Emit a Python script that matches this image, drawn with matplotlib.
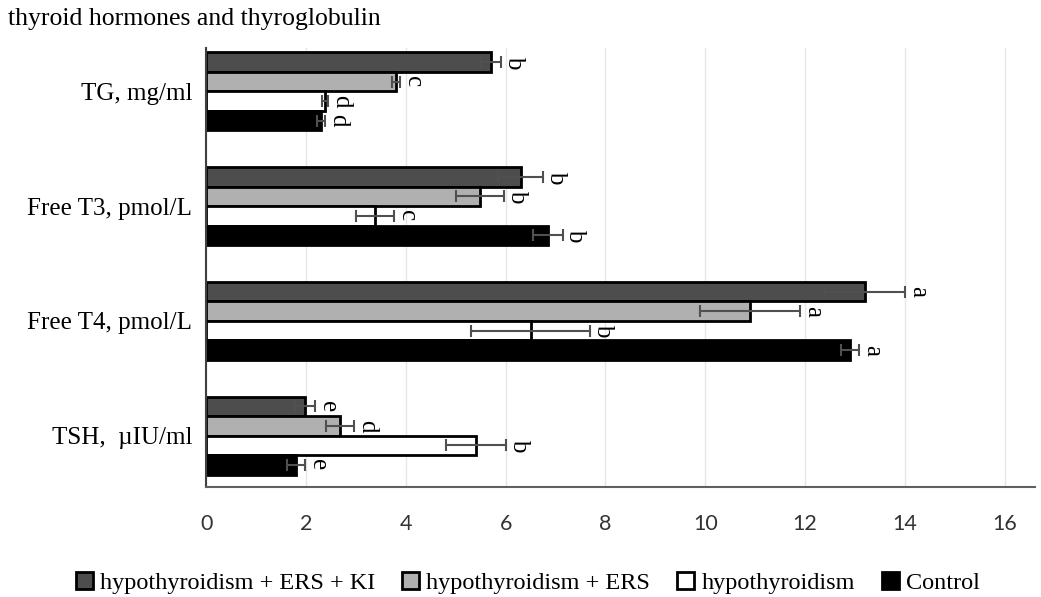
import matplotlib.pyplot as plt
import numpy as np

plt.rcParams['font.family'] = ['Liberation Serif', 'DejaVu Serif']

# bottom to top
categories = ["TSH,  \u00b5IU/ml", "Free T4, pmol/L", "Free T3, pmol/L", "TG, mg/ml"]
series = ["hypothyroidism + ERS + KI", "hypothyroidism + ERS", "hypothyroidism", "Control"]

ki_vals = [1.98, 13.2, 6.3, 5.7]
ki_err = [0.2, 0.8, 0.45, 0.2]
ki_let = ["e", "a", "b", "b"]

ers_vals = [2.68, 10.9, 5.48, 3.8]
ers_err = [0.28, 1.0, 0.48, 0.08]
ers_let = ["d", "a", "b", "c"]

hypo_vals = [5.4, 6.5, 3.38, 2.38]
hypo_err = [0.6, 1.2, 0.38, 0.06]
hypo_let = ["b", "b", "c", "d"]

ctrl_vals = [1.8, 12.9, 6.84, 2.3]
ctrl_err = [0.18, 0.18, 0.3, 0.08]
ctrl_let = ["e", "a", "b", "d"]

fig = plt.figure(figsize=(10.41, 5.97), dpi=100)
ax = fig.add_axes([0.198, 0.184, 0.796, 0.736])

y = np.arange(len(categories))
h = 0.17
groups = [
    (ki_vals, ki_err, ki_let, "#4d4d4d", 1.5),
    (ers_vals, ers_err, ers_let, "#b0b0b0", 0.5),
    (hypo_vals, hypo_err, hypo_let, "white", -0.5),
    (ctrl_vals, ctrl_err, ctrl_let, "black", -1.5),
]
for (vals, errs, lets, col, off), name in zip(groups, series):
    pos = y + off * h
    ax.barh(pos, vals, height=h, color=col, edgecolor="black", linewidth=2,
            label=name, zorder=2)
    ax.errorbar(vals, pos, xerr=errs, fmt="none", ecolor="#505050",
                elinewidth=1.5, capsize=4, capthick=1.5, zorder=3)
    for v, e, p, l in zip(vals, errs, pos, lets):
        ax.text(v + e + 0.04, p, l, rotation=-90, ha="left", va="center",
                fontsize=18, zorder=4)

ax.set_xlim(0, 16.6)
ax.set_ylim(-0.45, 3.38)
ax.set_xticks(np.arange(0, 17, 2))
ax.set_yticks(y)
ax.set_yticklabels(categories)
ax.tick_params(axis="x", length=0, pad=19, labelsize=15.5, labelcolor="#333333")
for t in ax.get_xticklabels():
    t.set_fontfamily(["Lato", "DejaVu Sans"])
ax.tick_params(axis="y", length=0, pad=10, labelsize=18)
ax.grid(axis="x", color="#e6e6e6", linewidth=1, zorder=0)
ax.set_axisbelow(True)
for s in ["top", "right"]:
    ax.spines[s].set_visible(False)
ax.spines["left"].set_color("#404040")
ax.spines["left"].set_linewidth(1.5)
ax.spines["bottom"].set_color("#606060")
ax.spines["bottom"].set_linewidth(1.5)

fig.text(0.008, 0.968, "thyroid hormones and thyroglobulin", fontsize=18.5,
         ha="left", va="center")

handles, labels = ax.get_legend_handles_labels()
fig.legend(handles, labels, loc="center", bbox_to_anchor=(0.507, 0.024), ncol=4,
           frameon=False, fontsize=17.5, handlelength=0.7, handleheight=0.7,
           handletextpad=0.3, columnspacing=1.1)

fig.savefig("out.png", dpi=100)
